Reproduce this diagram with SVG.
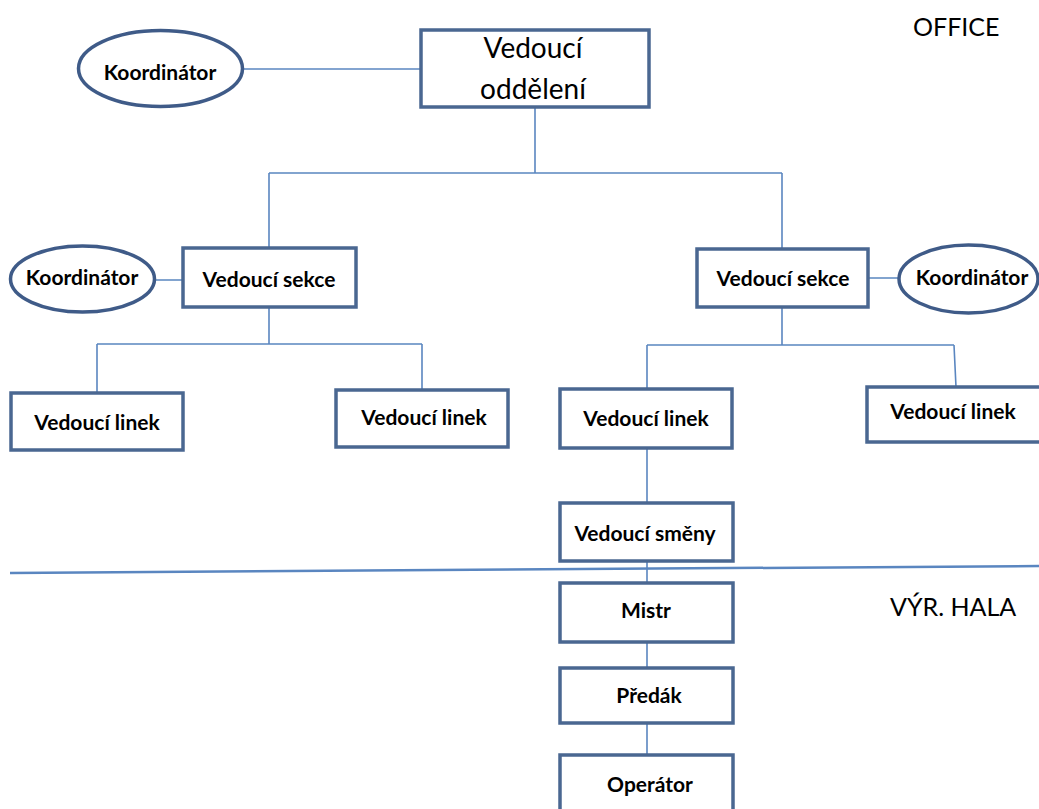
<svg xmlns="http://www.w3.org/2000/svg" width="1039" height="809" viewBox="0 0 1039 809">
  <style>
    .box { fill: #ffffff; stroke: #4a6791; stroke-width: 3.5; }
    .oval { fill: #ffffff; stroke: #3f5b88; stroke-width: 3.5; }
    .link { fill: none; stroke: #5a86c0; stroke-width: 1.6; }
    .divider { fill: none; stroke: #5a86c0; stroke-width: 2.5; }
    .lbl { font-family: Lato, "Liberation Sans", sans-serif; font-weight: bold; font-size: 21px; fill: #000000; text-anchor: middle; }
    .big { font-family: Lato, "Liberation Sans", sans-serif; font-size: 28px; fill: #000000; text-anchor: middle; }
    .zone { font-family: Lato, "Liberation Sans", sans-serif; font-size: 25px; fill: #000000; }
  </style>
  <rect width="1039" height="809" fill="#ffffff"/>

  <!-- connectors -->
  <g id="connectors">
    <path class="link" d="M243,69 H421"/>
    <path class="link" d="M535,107 V173 M269,173 H782 M269,173 V248 M782,173 V249"/>
    <path class="link" d="M155,280 H183 M868,278 H899"/>
    <path class="link" d="M269,307 V344 M97,344 H422 M97,344 V393 M422,344 V390"/>
    <path class="link" d="M782,307 V345 M647,345 H954 M647,345 V389 M954,345 L956,387"/>
    <path class="link" d="M647,448 V503 M647,561 V583 M647,642 V668 M647,723 V755"/>
    <path class="divider" d="M10,573 L1039,566"/>
  </g>

  <!-- zone labels -->
  <text class="zone" x="913" y="36">OFFICE</text>
  <text class="zone" x="890" y="616" font-size="26">VÝR. HALA</text>

  <g id="koordinator-top">
    <ellipse class="oval" cx="160.5" cy="68.5" rx="82" ry="38"/>
    <text class="lbl" x="160" y="80">Koordinátor</text>
  </g>
  <g id="vedouci-oddeleni">
    <rect class="box" x="421" y="30" width="228" height="77"/>
    <text class="big" x="533" y="58">Vedoucí</text>
    <text class="big" x="533" y="99">oddělení</text>
  </g>

  <g id="koordinator-left">
    <ellipse class="oval" cx="82.5" cy="279" rx="72" ry="33"/>
    <text class="lbl" x="82" y="285">Koordinátor</text>
  </g>
  <g id="sekce-left">
    <rect class="box" x="183" y="248" width="173" height="59"/>
    <text class="lbl" x="269" y="287">Vedoucí sekce</text>
  </g>
  <g id="sekce-right">
    <rect class="box" x="697" y="249" width="171" height="58"/>
    <text class="lbl" x="783" y="286">Vedoucí sekce</text>
  </g>
  <g id="koordinator-right">
    <ellipse class="oval" cx="968.5" cy="279" rx="69.5" ry="34"/>
    <text class="lbl" x="972" y="285">Koordinátor</text>
  </g>

  <g id="linek-1">
    <rect class="box" x="11" y="393" width="172" height="57"/>
    <text class="lbl" x="97" y="430">Vedoucí linek</text>
  </g>
  <g id="linek-2">
    <rect class="box" x="336" y="390" width="172" height="57"/>
    <text class="lbl" x="424" y="425">Vedoucí linek</text>
  </g>
  <g id="linek-3">
    <rect class="box" x="560" y="389" width="172" height="59"/>
    <text class="lbl" x="646" y="426">Vedoucí linek</text>
  </g>
  <g id="linek-4">
    <rect class="box" x="867" y="387" width="176" height="55"/>
    <text class="lbl" x="953" y="419">Vedoucí linek</text>
  </g>

  <g id="vedouci-smeny">
    <rect class="box" x="560" y="503" width="173" height="58"/>
    <text class="lbl" x="645" y="541">Vedoucí směny</text>
  </g>
  <g id="mistr">
    <rect class="box" x="560" y="583" width="173" height="59"/>
    <text class="lbl" x="646" y="618">Mistr</text>
  </g>
  <g id="predak">
    <rect class="box" x="560" y="668" width="173" height="55"/>
    <text class="lbl" x="649" y="703">Předák</text>
  </g>
  <g id="operator">
    <rect class="box" x="560" y="755" width="173" height="60"/>
    <text class="lbl" x="650" y="792">Operátor</text>
  </g>
</svg>
